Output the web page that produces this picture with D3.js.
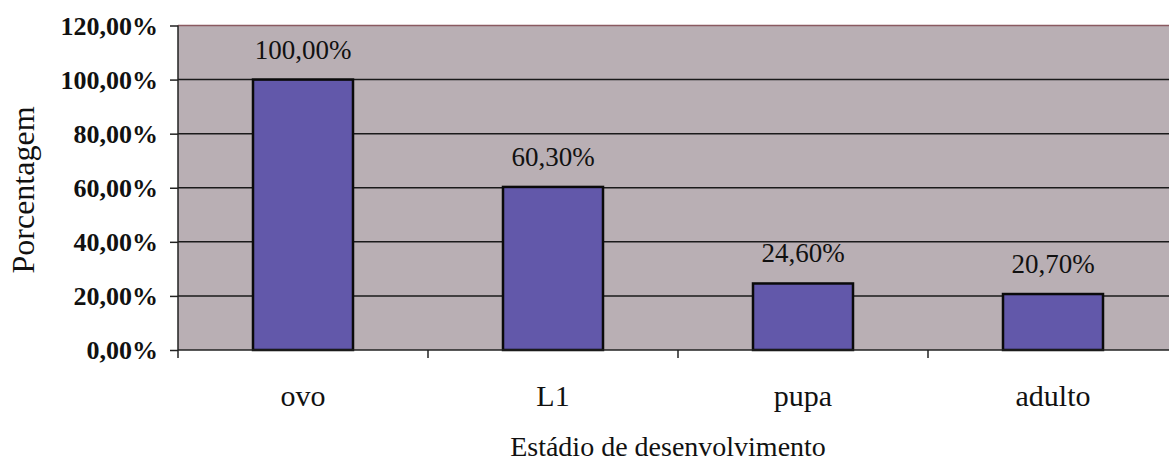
<!DOCTYPE html>
<html><head><meta charset="utf-8">
<script src="https://cdn.jsdelivr.net/npm/d3@7"></script>
<style>body{margin:0;background:#fff}svg{display:block}</style>
</head><body>
<script>
const categories = ["ovo", "L1", "pupa", "adulto"];
const values = [100.0, 60.3, 24.6, 20.7];
const valueLabels = ["100,00%", "60,30%", "24,60%", "20,70%"];
const yTicks = [0, 20, 40, 60, 80, 100, 120];
const yTickLabels = ["0,00%", "20,00%", "40,00%", "60,00%", "80,00%", "100,00%", "120,00%"];
const yTitle = "Porcentagem";
const xTitle = "Estádio de desenvolvimento";

(function () {
const FONT = "Liberation Serif";
const W = 1169, H = 465;
const pL = 178, pR = 1178, pT = 25.5, pB = 350;

const svg = d3.select("body").append("svg").attr("width", W).attr("height", H);

const x = d3.scaleBand().domain(categories).range([pL, pR]).paddingInner(0.6).paddingOuter(0.3);
const y = d3.scaleLinear().domain([0, 120]).range([pB, pT]);

svg.append("rect").attr("x", pL).attr("y", pT).attr("width", pR - pL).attr("height", pB - pT).attr("fill", "#b9afb4");

svg.append("g").selectAll("line").data(yTicks.filter(t => t > 0)).join("line")
  .attr("x1", pL).attr("x2", pR).attr("y1", d => y(d)).attr("y2", d => y(d))
  .attr("stroke", d => d === 120 ? "#8a5a60" : "#1a1a1a").attr("stroke-width", 1.5);

svg.append("g").selectAll("rect").data(categories).join("rect")
  .attr("x", d => x(d)).attr("width", x.bandwidth())
  .attr("y", (d, i) => y(values[i])).attr("height", (d, i) => y(0) - y(values[i]))
  .attr("fill", "#6258aa").attr("stroke", "#0a0a0a").attr("stroke-width", 2.5);

const yAxis = d3.axisLeft(y).tickValues(yTicks).tickSize(8).tickPadding(12).tickFormat((d, i) => yTickLabels[i]);
const ga = svg.append("g").attr("transform", `translate(${pL},0)`).call(yAxis);
ga.attr("font-family", null).attr("font-size", null);
ga.select(".domain").attr("stroke", "#222").attr("stroke-width", 1.5).attr("d", `M0,${pT}V${pB}`);
ga.selectAll(".tick line").attr("stroke", "#222").attr("stroke-width", 1.5);
ga.selectAll(".tick text").attr("dy", "0.34em")
  .style("font-family", FONT).style("font-size", "26px").style("font-weight", "bold").attr("fill", "#111");

const xBoundaries = d3.scaleLinear().domain([0, 4]).range([pL, pR]);
const gx = svg.append("g");
gx.append("line").attr("x1", pL).attr("x2", pR).attr("y1", pB).attr("y2", pB).attr("stroke", "#222").attr("stroke-width", 1.5);
gx.selectAll(".xt").data([0, 1, 2, 3, 4]).join("line").attr("class", "xt")
  .attr("x1", d => xBoundaries(d)).attr("x2", d => xBoundaries(d)).attr("y1", pB).attr("y2", pB + 8)
  .attr("stroke", "#222").attr("stroke-width", 1.5);
gx.selectAll("text").data(categories).join("text")
  .attr("x", d => x(d) + x.bandwidth() / 2).attr("y", 406)
  .attr("text-anchor", "middle").attr("fill", "#111")
  .style("font-family", FONT).style("font-size", "30px").text(d => d);

svg.append("g").selectAll("text").data(categories).join("text")
  .attr("x", d => x(d) + x.bandwidth() / 2).attr("y", (d, i) => y(values[i]) - 21)
  .attr("text-anchor", "middle").attr("fill", "#111")
  .style("font-family", FONT).style("font-size", "27px").text((d, i) => valueLabels[i]);

svg.append("text").attr("x", 668).attr("y", 456)
  .attr("text-anchor", "middle").attr("fill", "#111")
  .style("font-family", FONT).style("font-size", "28px").text(xTitle);
svg.append("text").attr("transform", `translate(34,190) rotate(-90)`)
  .attr("text-anchor", "middle").attr("fill", "#111")
  .style("font-family", FONT).style("font-size", "32px").text(yTitle);
})();
</script>
</body></html>
